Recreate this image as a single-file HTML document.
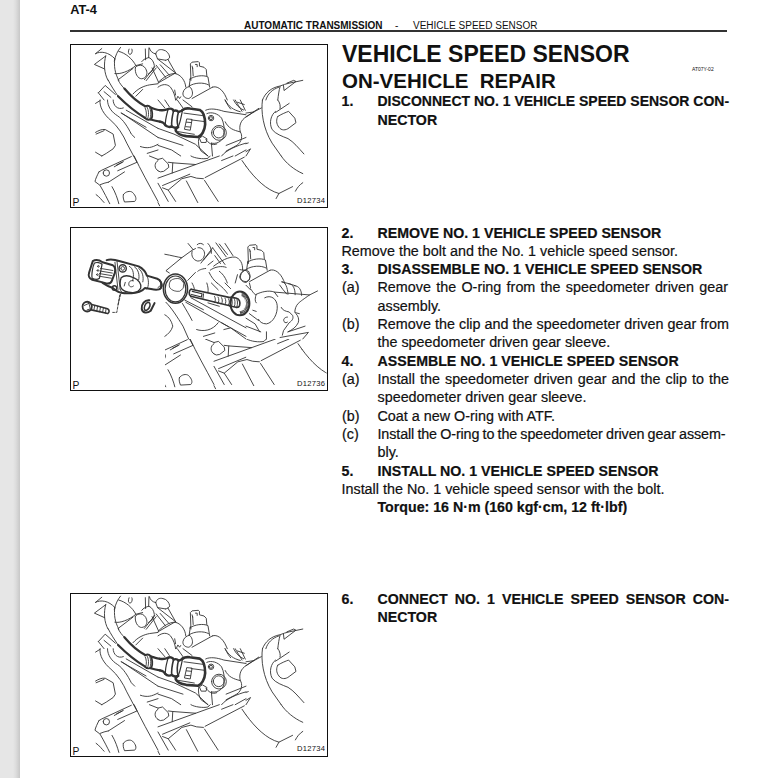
<!DOCTYPE html>
<html><head><meta charset="utf-8">
<style>
html,body{margin:0;padding:0;}
body{width:775px;height:778px;position:relative;overflow:hidden;background:#fff;font-family:"Liberation Sans",sans-serif;color:#111;}
#gray{position:absolute;left:0;top:0;width:20px;height:778px;background:linear-gradient(to right,#e6e6e6 0,#e6e6e6 13px,#dcdcdc 16px,#cacaca 19.5px,#fff 20px);}
.t{position:absolute;white-space:nowrap;line-height:1;}
.l{position:absolute;white-space:nowrap;line-height:14px;font-size:14.35px;-webkit-text-stroke:0.2px #111;}
.l.b{font-size:14.2px;}
.j{white-space:nowrap;}
.b{font-weight:bold;}
.box{position:absolute;border:1.5px solid #111;box-sizing:border-box;}
.box svg{position:absolute;left:0;top:0;}
.lblP{position:absolute;left:2px;bottom:1px;font-size:10px;line-height:1;}
.lblD{position:absolute;right:2px;bottom:2px;font-size:7.5px;line-height:1;}
</style></head><body>
<div id="gray"></div>
<div class="t b" style="left:70.2px;top:3.7px;font-size:12.8px;">AT-4</div>
<div class="t b" style="left:244px;top:20.5px;font-size:10px;">AUTOMATIC TRANSMISSION</div><div class="t" style="left:395px;top:20.5px;font-size:10px;">-</div><div class="t" style="left:413px;top:20.5px;font-size:10px;">VEHICLE SPEED SENSOR</div>
<div style="position:absolute;left:70px;top:30.2px;width:657px;height:1.5px;background:#333;"></div>

<div class="box" style="left:70px;top:43.8px;width:258px;height:164px;"></div>
<div class="box" style="left:70px;top:226.9px;width:258px;height:164px;"></div>
<div class="box" style="left:70px;top:592.5px;width:258px;height:164px;"></div>
<!--SVG--><svg width="775" height="778" style="position:absolute;left:0;top:0">
<defs><clipPath id="c1"><rect x="71.6" y="45.4" width="255" height="161"/></clipPath><clipPath id="c2"><rect x="71.6" y="228.3" width="255" height="161"/></clipPath><clipPath id="c2r"><rect x="165" y="339" width="161.6" height="50.3"/></clipPath></defs>
<g stroke="#333" fill="none" stroke-linecap="round" stroke-linejoin="round" vector-effect="non-scaling-stroke">
<g id="d1" clip-path="url(#c1)">
<g transform="translate(70.0,44.0) scale(0.11355)">
<path d="M315,105 C295,170 300,260 335,320" stroke-width="0.9" fill="none" vector-effect="non-scaling-stroke"/>
<path d="M395,130 C385,190 395,260 430,320" stroke-width="0.9" fill="none" vector-effect="non-scaling-stroke"/>
<path d="M225,85 C270,60 340,70 395,130" stroke-width="0.9" fill="none" vector-effect="non-scaling-stroke"/>
<path d="M225,85 L280,40" stroke-width="0.9" fill="none" vector-effect="non-scaling-stroke"/>
<path d="M315,105 L215,180 L305,220" stroke-width="0.9" fill="none" vector-effect="non-scaling-stroke"/>
<path d="M390,150 C400,100 420,60 445,30" stroke-width="0.9" fill="none" vector-effect="non-scaling-stroke"/>
<path d="M430,65 C490,80 550,130 580,190" stroke-width="0.9" fill="none" vector-effect="non-scaling-stroke"/>
<path d="M395,260 C440,270 520,240 580,190 L640,175" stroke-width="0.9" fill="none" vector-effect="non-scaling-stroke"/>
<path d="M430,310 L555,215" stroke-width="0.9" fill="none" vector-effect="non-scaling-stroke"/>
<path d="M520,45 C505,80 520,95 535,90 C550,75 550,55 545,45" stroke-width="0.9" fill="none" vector-effect="non-scaling-stroke"/>
<path d="M250,430 L310,365 L400,445" stroke-width="0.9" fill="none" vector-effect="non-scaling-stroke"/>
<path d="M250,430 L300,493" stroke-width="0.9" fill="none" vector-effect="non-scaling-stroke"/>
<path d="M300,420 L360,470" stroke-width="0.9" fill="none" vector-effect="non-scaling-stroke"/>
<path d="M555,440 C600,390 650,370 700,360 L775,350" stroke-width="0.9" fill="none" vector-effect="non-scaling-stroke"/>
<path d="M580,460 L640,400" stroke-width="0.9" fill="none" vector-effect="non-scaling-stroke"/>
</g>
<g transform="translate(158.0,44.0) scale(0.11355)">
<path d="M0,340 C50,290 100,260 150,260 C200,270 240,320 245,380" stroke-width="0.9" fill="none" vector-effect="non-scaling-stroke"/>
<path d="M0,380 C40,350 80,350 110,380 C140,420 150,460 155,493" stroke-width="0.9" fill="none" vector-effect="non-scaling-stroke"/>
<path d="M160,493 L175,460 L190,480 L200,465" stroke-width="0.9" fill="none" vector-effect="non-scaling-stroke"/>
<path d="M290,320 L285,175 L300,160 L355,155 L365,165 L365,195 L405,205 L425,225 L430,280" stroke-width="0.9" fill="none" vector-effect="non-scaling-stroke"/>
<path d="M300,195 L305,215" stroke-width="0.9" fill="none" vector-effect="non-scaling-stroke"/>
<path d="M330,180 L345,180 L345,200" stroke-width="0.9" fill="none" vector-effect="non-scaling-stroke"/>
<path d="M305,210 L310,280" stroke-width="0.9" fill="none" vector-effect="non-scaling-stroke"/>
<path d="M280,310 C320,280 400,270 440,290 L455,380" stroke-width="0.9" fill="none" vector-effect="non-scaling-stroke"/>
<path d="M275,370 C320,340 400,335 445,360" stroke-width="0.9" fill="none" vector-effect="non-scaling-stroke"/>
<path d="M285,300 L275,370" stroke-width="0.9" fill="none" vector-effect="non-scaling-stroke"/>
<path d="M275,375 C250,380 225,400 220,430 C215,460 240,480 270,480 C300,470 310,440 300,410 C295,390 285,380 275,375" stroke-width="0.9" fill="none" vector-effect="non-scaling-stroke"/>
<path d="M300,480 L480,380" stroke-width="0.9" fill="none" vector-effect="non-scaling-stroke"/>
<path d="M480,380 C520,365 570,400 600,470 L610,493" stroke-width="0.9" fill="none" vector-effect="non-scaling-stroke"/>
</g>
<g transform="translate(246.0,44.0) scale(0.11355)">
<path d="M145,493 C170,430 220,385 300,370 C330,360 350,350 380,345 L500,320" stroke-width="0.9" fill="none" vector-effect="non-scaling-stroke"/>
<path d="M175,493 C190,440 230,400 290,380" stroke-width="0.9" fill="none" vector-effect="non-scaling-stroke"/>
<path d="M300,375 C290,410 285,450 280,493" stroke-width="0.9" fill="none" vector-effect="non-scaling-stroke"/>
<path d="M330,365 L335,410 L440,330 L420,320 L360,345" stroke-width="0.9" fill="none" vector-effect="non-scaling-stroke"/>
</g>
<g transform="translate(70.0,100.0) scale(0.11355)">
<path d="M225,30 L265,5" stroke-width="0.9" fill="none" vector-effect="non-scaling-stroke"/>
<path d="M265,0 C255,60 300,130 360,180 C420,230 470,310 500,380 L560,493" stroke-width="0.9" fill="none" vector-effect="non-scaling-stroke"/>
<path d="M330,0 C330,60 370,110 420,140 C470,175 510,240 540,300 L570,330" stroke-width="0.9" fill="none" vector-effect="non-scaling-stroke"/>
<path d="M380,0 C380,50 420,90 470,70" stroke-width="0.9" fill="none" vector-effect="non-scaling-stroke"/>
<path d="M450,115 L670,240" stroke-width="0.9" fill="none" vector-effect="non-scaling-stroke"/>
<path d="M455,115 L775,330" stroke-width="0.9" fill="none" vector-effect="non-scaling-stroke"/>
<path d="M495,90 L775,250" stroke-width="0.9" fill="none" vector-effect="non-scaling-stroke"/>
<path d="M225,285 C250,270 280,255 310,260 L380,300 L400,400 L380,430 L320,470 L280,493" stroke-width="0.9" fill="none" vector-effect="non-scaling-stroke"/>
<path d="M225,460 L280,493" stroke-width="0.9" fill="none" vector-effect="non-scaling-stroke"/>
<path d="M230,300 L300,270" stroke-width="0.9" fill="none" vector-effect="non-scaling-stroke"/>
<path d="M620,410 C680,430 720,420 775,390" stroke-width="0.9" fill="none" vector-effect="non-scaling-stroke"/>
<path d="M680,470 L775,440" stroke-width="0.9" fill="none" vector-effect="non-scaling-stroke"/>
</g>
<g transform="translate(100.0,80.0) scale(0.09033)">
<path d="M200,0 C220,40 245,70 270,95" stroke-width="0.9" fill="none" vector-effect="non-scaling-stroke"/>
<path d="M270,95 C350,190 420,250 500,290" stroke-width="2.2" fill="none" vector-effect="non-scaling-stroke"/>
<path d="M90,0 C120,60 160,120 200,180" stroke-width="0.9" fill="none" vector-effect="non-scaling-stroke"/>
<path d="M200,180 C300,280 400,360 500,420" stroke-width="2.2" fill="none" vector-effect="non-scaling-stroke"/>
<path d="M500,292 C515,285 545,285 560,300 C580,330 585,400 570,428 C555,445 520,445 500,422" stroke-width="1.8" fill="none" vector-effect="non-scaling-stroke"/>
<path d="M520,300 C540,330 545,390 525,435" stroke-width="0.9" fill="none" vector-effect="non-scaling-stroke"/>
<path d="M500,310 C515,340 520,390 505,425" stroke-width="0.9" fill="none" vector-effect="non-scaling-stroke"/>
<path d="M545,298 C565,330 570,395 550,438" stroke-width="0.9" fill="none" vector-effect="non-scaling-stroke"/>
<path d="M568,308 C620,325 640,333 664,333" stroke-width="2.2" fill="none" vector-effect="non-scaling-stroke"/>
<path d="M560,438 C600,450 640,458 664,461" stroke-width="2.2" fill="none" vector-effect="non-scaling-stroke"/>
</g>
<g transform="translate(158.0,100.0) scale(0.11355)">
<path d="M430,120 C470,100 530,120 560,160 C580,200 590,260 580,320 C560,370 510,390 470,380" stroke-width="0.9" fill="none" vector-effect="non-scaling-stroke"/>
<path d="M420,90 C460,70 520,80 580,100 L775,130" stroke-width="0.9" fill="none" vector-effect="non-scaling-stroke"/>
<path d="M700,20 L760,40" stroke-width="0.9" fill="none" vector-effect="non-scaling-stroke"/>
<path d="M590,0 C610,40 630,70 640,80" stroke-width="0.9" fill="none" vector-effect="non-scaling-stroke"/>
<path d="M680,0 C700,40 720,60 740,100" stroke-width="0.9" fill="none" vector-effect="non-scaling-stroke"/>
<path d="M0,250 L140,300 L330,390 L440,493" stroke-width="0.9" fill="none" vector-effect="non-scaling-stroke"/>
<path d="M0,330 L220,400" stroke-width="0.9" fill="none" vector-effect="non-scaling-stroke"/>
<path d="M0,400 L120,440 L200,493" stroke-width="0.9" fill="none" vector-effect="non-scaling-stroke"/>
<path d="M360,330 C350,380 360,420 380,450 L440,493" stroke-width="0.9" fill="none" vector-effect="non-scaling-stroke"/>
<path d="M470,380 L480,493" stroke-width="0.9" fill="none" vector-effect="non-scaling-stroke"/>
<path d="M0,0 L60,70" stroke-width="0.9" fill="none" vector-effect="non-scaling-stroke"/>
<path d="M60,0 L100,60" stroke-width="0.9" fill="none" vector-effect="non-scaling-stroke"/>
<path d="M170,0 L220,70" stroke-width="0.9" fill="none" vector-effect="non-scaling-stroke"/>
<path d="M220,0 L300,60" stroke-width="0.9" fill="none" vector-effect="non-scaling-stroke"/>
<path d="M600,400 L775,330" stroke-width="0.9" fill="none" vector-effect="non-scaling-stroke"/>
<path d="M560,493 C600,440 700,400 775,380" stroke-width="0.9" fill="none" vector-effect="non-scaling-stroke"/>
<path d="M680,493 L775,440" stroke-width="0.9" fill="none" vector-effect="non-scaling-stroke"/>
</g>
<g transform="translate(160.0,100.0) scale(0.09033)">
<path d="M0,112 C40,118 70,110 90,100" stroke-width="2.4" fill="none" vector-effect="non-scaling-stroke"/>
<path d="M0,240 C30,245 50,260 60,280" stroke-width="2.4" fill="none" vector-effect="non-scaling-stroke"/>
<path d="M90,100 C115,88 145,100 150,120 C170,112 195,120 205,132 C225,125 240,122 250,110" stroke-width="2.4" fill="none" vector-effect="non-scaling-stroke"/>
<path d="M60,280 C80,302 115,302 130,290 C150,312 185,310 200,300" stroke-width="2.4" fill="none" vector-effect="non-scaling-stroke"/>
<path d="M150,120 C135,180 125,240 130,290" stroke-width="1.6" fill="none" vector-effect="non-scaling-stroke"/>
<path d="M205,132 C190,180 185,240 200,300" stroke-width="1.6" fill="none" vector-effect="non-scaling-stroke"/>
<path d="M90,100 C75,160 55,220 60,280" stroke-width="1.2" fill="none" vector-effect="non-scaling-stroke"/>
<path d="M250,110 C270,95 300,90 330,95 L440,110 C480,130 500,200 500,270 C495,340 460,400 420,410 L290,400 C220,390 190,370 175,340 C170,320 175,310 200,300" stroke-width="2.6" fill="none" vector-effect="non-scaling-stroke"/>
<path d="M250,110 C235,180 225,250 200,300" stroke-width="1.2" fill="none" vector-effect="non-scaling-stroke"/>
<path d="M300,210 L355,215 L335,335 L275,325 Z" stroke-width="0.9" fill="none" vector-effect="non-scaling-stroke"/>
<path d="M292,245 L345,250" stroke-width="0.9" fill="none" vector-effect="non-scaling-stroke"/>
<path d="M285,295 L338,300" stroke-width="0.9" fill="none" vector-effect="non-scaling-stroke"/>
<path d="M265,145 L490,175" stroke-width="0.9" fill="none" vector-effect="non-scaling-stroke"/>
<path d="M345,220 L500,240" stroke-width="0.9" fill="none" vector-effect="non-scaling-stroke"/>
<path d="M200,350 L380,380" stroke-width="0.9" fill="none" vector-effect="non-scaling-stroke"/>
<path d="M565,200 m-30,0 a30,30 0 1,0 60,0 a30,30 0 1,0 -60,0" stroke-width="0.9" fill="none" vector-effect="non-scaling-stroke"/>
<path d="M650,360 m-60,0 a60,60 0 1,0 120,0 a60,60 0 1,0 -120,0" stroke-width="0.9" fill="none" vector-effect="non-scaling-stroke"/>
<path d="M440,420 L470,400 L520,430 L510,470 L460,470 Z" stroke-width="0.9" fill="none" vector-effect="non-scaling-stroke"/>
</g>
<g transform="translate(200.0,100.0) scale(0.16779)">
<path d="M65,108 m-9,0 a9,9 0 1,0 18,0 a9,9 0 1,0 -18,0" stroke-width="0.9" fill="none" vector-effect="non-scaling-stroke"/>
<path d="M113,196 m-44,0 a44,44 0 1,0 88,0 a44,44 0 1,0 -88,0" stroke-width="0.9" fill="none" vector-effect="non-scaling-stroke"/>
<path d="M150,130 C170,170 200,180 240,190 C255,210 250,250 220,270 C195,285 170,295 155,305" stroke-width="0.9" fill="none" vector-effect="non-scaling-stroke"/>
<path d="M240,190 C230,150 245,120 275,100 L350,50" stroke-width="0.9" fill="none" vector-effect="non-scaling-stroke"/>
<path d="M150,0 C170,40 200,60 240,70" stroke-width="0.9" fill="none" vector-effect="non-scaling-stroke"/>
<path d="M200,0 C215,30 235,50 260,60" stroke-width="0.9" fill="none" vector-effect="non-scaling-stroke"/>
<path d="M240,0 C250,20 262,45 270,62" stroke-width="0.9" fill="none" vector-effect="non-scaling-stroke"/>
<path d="M35,235 C50,255 70,275 100,262" stroke-width="0.9" fill="none" vector-effect="non-scaling-stroke"/>
</g>
<g transform="translate(246.0,100.0) scale(0.11355)">
<path d="M145,0 C130,100 150,250 230,380 L310,493" stroke-width="0.9" fill="none" vector-effect="non-scaling-stroke"/>
<path d="M280,0 C300,20 305,60 300,75" stroke-width="0.9" fill="none" vector-effect="non-scaling-stroke"/>
<path d="M0,150 L70,105 L135,70" stroke-width="0.9" fill="none" vector-effect="non-scaling-stroke"/>
<path d="M0,115 L70,105" stroke-width="0.9" fill="none" vector-effect="non-scaling-stroke"/>
<path d="M260,110 L380,30" stroke-width="0.9" fill="none" vector-effect="non-scaling-stroke"/>
<path d="M260,100 C220,130 200,200 230,260 C260,300 320,320 370,340 C420,370 460,420 510,475" stroke-width="0.9" fill="none" vector-effect="non-scaling-stroke"/>
<path d="M280,145 C320,120 350,110 375,100 L430,160 L440,200 L380,245 C350,270 310,270 290,240 C265,210 265,170 280,145" stroke-width="0.9" fill="none" vector-effect="non-scaling-stroke"/>
<path d="M0,455 L40,430 L0,493" stroke-width="0.9" fill="none" vector-effect="non-scaling-stroke"/>
<path d="M0,385 L20,378" stroke-width="0.9" fill="none" vector-effect="non-scaling-stroke"/>
</g>
<g transform="translate(70.0,156.0) scale(0.11355)">
<path d="M255,140 L280,125 L540,5" stroke-width="0.9" fill="none" vector-effect="non-scaling-stroke"/>
<path d="M390,95 L470,50" stroke-width="0.9" fill="none" vector-effect="non-scaling-stroke"/>
<path d="M410,80 L460,55" stroke-width="0.9" fill="none" vector-effect="non-scaling-stroke"/>
<path d="M420,130 L590,55 L560,0" stroke-width="0.9" fill="none" vector-effect="non-scaling-stroke"/>
<path d="M340,230 L480,140" stroke-width="0.9" fill="none" vector-effect="non-scaling-stroke"/>
<path d="M255,140 C240,170 225,200 220,225 L260,255 L300,240 L340,230" stroke-width="0.9" fill="none" vector-effect="non-scaling-stroke"/>
<path d="M320,150 m-28,0 a28,28 0 1,0 56,0 a28,28 0 1,0 -56,0" stroke-width="0.9" fill="none" vector-effect="non-scaling-stroke"/>
<path d="M265,260 C300,320 330,380 350,420" stroke-width="0.9" fill="none" vector-effect="non-scaling-stroke"/>
<path d="M370,270 C400,320 420,380 430,420" stroke-width="0.9" fill="none" vector-effect="non-scaling-stroke"/>
<path d="M230,340 C260,360 280,390 300,410" stroke-width="0.9" fill="none" vector-effect="non-scaling-stroke"/>
<path d="M470,340 C490,310 530,305 550,320 C580,350 590,380 570,400 L480,405 C470,380 465,360 470,340" stroke-width="0.9" fill="none" vector-effect="non-scaling-stroke"/>
<path d="M565,0 C620,120 700,260 775,400" stroke-width="0.9" fill="none" vector-effect="non-scaling-stroke"/>
<path d="M700,0 L775,30" stroke-width="0.9" fill="none" vector-effect="non-scaling-stroke"/>
<path d="M775,40 C740,60 740,110 775,130" stroke-width="0.9" fill="none" vector-effect="non-scaling-stroke"/>
</g>
<g transform="translate(158.0,156.0) scale(0.11355)">
<path d="M0,30 L40,20 L90,70 L95,100 L50,135 L20,140 L0,130" stroke-width="0.9" fill="none" vector-effect="non-scaling-stroke"/>
<path d="M90,55 L130,60 L330,75" stroke-width="0.9" fill="none" vector-effect="non-scaling-stroke"/>
<path d="M130,60 L125,150" stroke-width="0.9" fill="none" vector-effect="non-scaling-stroke"/>
<path d="M0,195 L540,0" stroke-width="0.9" fill="none" vector-effect="non-scaling-stroke"/>
<path d="M560,40 L660,0" stroke-width="0.9" fill="none" vector-effect="non-scaling-stroke"/>
<path d="M415,190 L760,10" stroke-width="0.9" fill="none" vector-effect="non-scaling-stroke"/>
<path d="M40,260 L280,160" stroke-width="0.9" fill="none" vector-effect="non-scaling-stroke"/>
<path d="M40,280 L90,300 L210,200 L290,180 L340,195 L400,200" stroke-width="0.9" fill="none" vector-effect="non-scaling-stroke"/>
<path d="M0,240 L90,400" stroke-width="0.9" fill="none" vector-effect="non-scaling-stroke"/>
<path d="M90,300 L155,400" stroke-width="0.9" fill="none" vector-effect="non-scaling-stroke"/>
<path d="M250,220 L350,410" stroke-width="0.9" fill="none" vector-effect="non-scaling-stroke"/>
<path d="M410,215 L530,400" stroke-width="0.9" fill="none" vector-effect="non-scaling-stroke"/>
<path d="M290,0 C320,20 400,30 440,20 L460,0" stroke-width="0.9" fill="none" vector-effect="non-scaling-stroke"/>
<path d="M740,40 L775,90" stroke-width="0.9" fill="none" vector-effect="non-scaling-stroke"/>
<path d="M0,410 L15,440" stroke-width="0.9" fill="none" vector-effect="non-scaling-stroke"/>
</g>
<g transform="translate(246.0,156.0) scale(0.11355)">
<path d="M0,90 C80,200 180,300 290,330 L410,270" stroke-width="0.9" fill="none" vector-effect="non-scaling-stroke"/>
<path d="M290,330 L265,375" stroke-width="0.9" fill="none" vector-effect="non-scaling-stroke"/>
<path d="M310,0 C350,60 420,120 500,155" stroke-width="0.9" fill="none" vector-effect="non-scaling-stroke"/>
<path d="M435,310 C450,280 470,255 500,235" stroke-width="0.9" fill="none" vector-effect="non-scaling-stroke"/>
</g>
<g transform="translate(125.0,44.0) scale(0.09033)">
<path d="M115,260 C105,320 140,385 185,385 C230,380 250,340 240,300 C230,260 200,235 170,235 C150,235 125,245 115,260" stroke-width="0.9" fill="none" vector-effect="non-scaling-stroke"/>
<path d="M185,195 C200,170 240,155 265,150 C300,165 320,200 325,240 C320,280 300,310 260,330" stroke-width="0.9" fill="none" vector-effect="non-scaling-stroke"/>
<path d="M225,55 L228,175" stroke-width="0.9" fill="none" vector-effect="non-scaling-stroke"/>
<path d="M265,45 L262,150" stroke-width="0.9" fill="none" vector-effect="non-scaling-stroke"/>
<path d="M270,45 C280,80 300,100 340,110" stroke-width="0.9" fill="none" vector-effect="non-scaling-stroke"/>
<path d="M340,110 C350,70 380,55 420,65 C460,70 490,110 495,145 C490,165 470,175 450,180" stroke-width="0.9" fill="none" vector-effect="non-scaling-stroke"/>
<path d="M340,110 L360,165 L450,180" stroke-width="0.9" fill="none" vector-effect="non-scaling-stroke"/>
<path d="M360,165 L565,325" stroke-width="0.9" fill="none" vector-effect="non-scaling-stroke"/>
<path d="M475,170 L560,320" stroke-width="0.9" fill="none" vector-effect="non-scaling-stroke"/>
<path d="M345,235 L450,370" stroke-width="0.9" fill="none" vector-effect="non-scaling-stroke"/>
<path d="M390,230 L490,345" stroke-width="0.9" fill="none" vector-effect="non-scaling-stroke"/>
<path d="M300,265 L370,420" stroke-width="0.9" fill="none" vector-effect="non-scaling-stroke"/>
<path d="M215,395 L330,250" stroke-width="0.9" fill="none" vector-effect="non-scaling-stroke"/>
<path d="M235,405 L345,265" stroke-width="0.9" fill="none" vector-effect="non-scaling-stroke"/>
<path d="M370,430 L560,320" stroke-width="0.9" fill="none" vector-effect="non-scaling-stroke"/>
<path d="M550,510 L560,565" stroke-width="0.9" fill="none" vector-effect="non-scaling-stroke"/>
</g>
</g>
<g clip-path="url(#c2)">
<g transform="translate(158.0,227.0) scale(0.11355)">
<path d="M265,145 L310,200" stroke-width="0.9" fill="none" vector-effect="non-scaling-stroke"/>
<path d="M60,240 C120,250 170,265 210,270 L300,205 L330,190" stroke-width="0.9" fill="none" vector-effect="non-scaling-stroke"/>
<path d="M210,270 L70,385 L100,405" stroke-width="0.9" fill="none" vector-effect="non-scaling-stroke"/>
<path d="M300,215 C290,255 310,292 350,300 C390,300 412,262 410,230 C405,195 380,180 352,182" stroke-width="0.9" fill="none" vector-effect="non-scaling-stroke"/>
<path d="M345,155 C360,140 385,140 400,155" stroke-width="0.9" fill="none" vector-effect="non-scaling-stroke"/>
<path d="M378,318 L480,185" stroke-width="0.9" fill="none" vector-effect="non-scaling-stroke"/>
<path d="M400,292 L470,210" stroke-width="0.9" fill="none" vector-effect="non-scaling-stroke"/>
<path d="M440,335 L485,300" stroke-width="0.9" fill="none" vector-effect="non-scaling-stroke"/>
<path d="M440,145 C462,165 472,200 470,232" stroke-width="0.9" fill="none" vector-effect="non-scaling-stroke"/>
<path d="M510,140 L600,262" stroke-width="0.9" fill="none" vector-effect="non-scaling-stroke"/>
<path d="M540,150 L612,242" stroke-width="0.9" fill="none" vector-effect="non-scaling-stroke"/>
<path d="M590,145 L660,252" stroke-width="0.9" fill="none" vector-effect="non-scaling-stroke"/>
<path d="M480,182 L590,330" stroke-width="0.9" fill="none" vector-effect="non-scaling-stroke"/>
<path d="M500,252 L550,322" stroke-width="0.9" fill="none" vector-effect="non-scaling-stroke"/>
<path d="M490,345 C550,300 620,260 680,265 C720,275 750,320 745,380" stroke-width="0.9" fill="none" vector-effect="non-scaling-stroke"/>
<path d="M460,380 C500,350 560,340 600,355" stroke-width="0.9" fill="none" vector-effect="non-scaling-stroke"/>
<path d="M450,400 C470,440 490,470 520,493" stroke-width="0.9" fill="none" vector-effect="non-scaling-stroke"/>
<path d="M540,390 C580,420 600,460 610,493" stroke-width="0.9" fill="none" vector-effect="non-scaling-stroke"/>
<path d="M262,470 L330,400" stroke-width="0.9" fill="none" vector-effect="non-scaling-stroke"/>
<path d="M350,390 C360,380 380,370 420,365" stroke-width="0.9" fill="none" vector-effect="non-scaling-stroke"/>
<path d="M680,493 L700,420" stroke-width="0.9" fill="none" vector-effect="non-scaling-stroke"/>
<path d="M720,375 C740,380 760,380 775,378" stroke-width="0.9" fill="none" vector-effect="non-scaling-stroke"/>
</g>
<g transform="translate(215.5,227.1) scale(0.11355)">
<path d="M290,320 L285,175 L300,160 L355,155 L365,165 L365,195 L405,205 L425,225 L430,280" stroke-width="0.9" fill="none" vector-effect="non-scaling-stroke"/>
<path d="M300,195 L305,215" stroke-width="0.9" fill="none" vector-effect="non-scaling-stroke"/>
<path d="M330,180 L345,180 L345,200" stroke-width="0.9" fill="none" vector-effect="non-scaling-stroke"/>
<path d="M305,210 L310,280" stroke-width="0.9" fill="none" vector-effect="non-scaling-stroke"/>
<path d="M280,310 C320,280 400,270 440,290 L455,380" stroke-width="0.9" fill="none" vector-effect="non-scaling-stroke"/>
<path d="M275,370 C320,340 400,335 445,360" stroke-width="0.9" fill="none" vector-effect="non-scaling-stroke"/>
<path d="M285,300 L275,370" stroke-width="0.9" fill="none" vector-effect="non-scaling-stroke"/>
<path d="M275,375 C250,380 225,400 220,430 C215,460 240,480 270,480 C300,470 310,440 300,410 C295,390 285,380 275,375" stroke-width="0.9" fill="none" vector-effect="non-scaling-stroke"/>
<path d="M300,480 L480,380" stroke-width="0.9" fill="none" vector-effect="non-scaling-stroke"/>
<path d="M480,380 C520,365 570,400 600,470 L610,493" stroke-width="0.9" fill="none" vector-effect="non-scaling-stroke"/>
</g>
<g transform="translate(158.0,283.0) scale(0.11355)">
<path d="M70,170 C120,220 170,300 220,380 L270,493" stroke-width="0.9" fill="none" vector-effect="non-scaling-stroke"/>
<path d="M215,180 C250,240 280,290 300,330" stroke-width="0.9" fill="none" vector-effect="non-scaling-stroke"/>
<path d="M235,150 L400,235" stroke-width="0.9" fill="none" vector-effect="non-scaling-stroke"/>
<path d="M290,130 L775,395" stroke-width="0.9" fill="none" vector-effect="non-scaling-stroke"/>
<path d="M245,170 L620,385" stroke-width="0.9" fill="none" vector-effect="non-scaling-stroke"/>
<path d="M60,280 C100,300 120,340 130,380 C120,420 90,450 60,470" stroke-width="0.9" fill="none" vector-effect="non-scaling-stroke"/>
<path d="M340,410 C400,430 480,420 530,350" stroke-width="0.9" fill="none" vector-effect="non-scaling-stroke"/>
<path d="M400,470 L500,440" stroke-width="0.9" fill="none" vector-effect="non-scaling-stroke"/>
<path d="M560,350 L775,470" stroke-width="0.9" fill="none" vector-effect="non-scaling-stroke"/>
<path d="M580,410 L640,395 L775,493" stroke-width="0.9" fill="none" vector-effect="non-scaling-stroke"/>
<path d="M430,0 C440,30 445,60 440,80" stroke-width="0.9" fill="none" vector-effect="non-scaling-stroke"/>
<path d="M470,0 L530,60" stroke-width="0.9" fill="none" vector-effect="non-scaling-stroke"/>
<path d="M590,0 L640,50" stroke-width="0.9" fill="none" vector-effect="non-scaling-stroke"/>
<path d="M520,0 C560,30 600,70 610,90" stroke-width="0.9" fill="none" vector-effect="non-scaling-stroke"/>
<path d="M440,175 L540,205" stroke-width="0.9" fill="none" vector-effect="non-scaling-stroke"/>
<path d="M300,0 C310,20 320,40 320,55" stroke-width="0.9" fill="none" vector-effect="non-scaling-stroke"/>
<path d="M0,40 C20,30 30,10 25,0" stroke-width="0.9" fill="none" vector-effect="non-scaling-stroke"/>
</g>
<g transform="translate(246.0,283.0) scale(0.11355)">
<path d="M0,20 L40,60" stroke-width="0.9" fill="none" vector-effect="non-scaling-stroke"/>
<path d="M30,0 L40,40" stroke-width="0.9" fill="none" vector-effect="non-scaling-stroke"/>
<path d="M40,50 C60,80 80,110 90,100 C130,80 200,60 250,80 L280,120" stroke-width="0.9" fill="none" vector-effect="non-scaling-stroke"/>
<path d="M90,100 C80,130 75,160 90,175" stroke-width="0.9" fill="none" vector-effect="non-scaling-stroke"/>
<path d="M165,130 C220,100 270,140 275,200 C280,270 240,350 180,360 C140,360 120,340 110,320" stroke-width="0.9" fill="none" vector-effect="non-scaling-stroke"/>
<path d="M250,80 L560,105 L630,70" stroke-width="0.9" fill="none" vector-effect="non-scaling-stroke"/>
<path d="M560,105 C510,140 480,160 460,180 C440,200 430,230 430,260 L470,270" stroke-width="0.9" fill="none" vector-effect="non-scaling-stroke"/>
<path d="M310,215 C320,240 350,250 380,255 L410,285 C420,310 410,330 380,350 L330,420 L320,460" stroke-width="0.9" fill="none" vector-effect="non-scaling-stroke"/>
<path d="M440,270 C460,290 470,320 460,350 C440,390 410,410 370,430" stroke-width="0.9" fill="none" vector-effect="non-scaling-stroke"/>
<path d="M365,300 C340,300 325,320 335,340 C345,355 360,350 365,345" stroke-width="0.9" fill="none" vector-effect="non-scaling-stroke"/>
<path d="M370,430 L520,380" stroke-width="0.9" fill="none" vector-effect="non-scaling-stroke"/>
<path d="M300,480 L550,435 L500,493" stroke-width="0.9" fill="none" vector-effect="non-scaling-stroke"/>
<path d="M60,240 L90,250" stroke-width="0.9" fill="none" vector-effect="non-scaling-stroke"/>
<path d="M30,270 L110,330" stroke-width="0.9" fill="none" vector-effect="non-scaling-stroke"/>
<path d="M0,310 L80,360 L120,430" stroke-width="0.9" fill="none" vector-effect="non-scaling-stroke"/>
<path d="M0,380 L130,430" stroke-width="0.9" fill="none" vector-effect="non-scaling-stroke"/>
<path d="M180,430 L180,493" stroke-width="0.9" fill="none" vector-effect="non-scaling-stroke"/>
</g>
<g transform="translate(75.0,295.0) scale(0.11613)">
<path d="M105,100 m-40,0 a40,42 0 1,0 80,0 a40,42 0 1,0 -80,0" stroke-width="1.8" fill="none" vector-effect="non-scaling-stroke"/>
<path d="M120,72 L132,120 L105,128" stroke-width="0.9" fill="none" vector-effect="non-scaling-stroke"/>
<path d="M80,90 L120,72" stroke-width="0.9" fill="none" vector-effect="non-scaling-stroke"/>
<path d="M145,82 L280,118 C298,128 298,150 282,160 L140,128" stroke-width="1.6" fill="none" vector-effect="non-scaling-stroke"/>
<path d="M170,90 L162,132" stroke-width="0.9" fill="none" vector-effect="non-scaling-stroke"/>
<path d="M195,96 L187,138" stroke-width="0.9" fill="none" vector-effect="non-scaling-stroke"/>
<path d="M220,103 L212,145" stroke-width="0.9" fill="none" vector-effect="non-scaling-stroke"/>
<path d="M245,110 L237,152" stroke-width="0.9" fill="none" vector-effect="non-scaling-stroke"/>
<path d="M268,116 L262,157" stroke-width="0.9" fill="none" vector-effect="non-scaling-stroke"/>
<path d="M385,0 L360,150 L325,150" stroke-width="0.9" fill="none" vector-effect="non-scaling-stroke" stroke-dasharray="2.5,1.5"/>
<path d="M640,45 C600,40 570,80 575,120 C580,155 620,162 652,135 L685,70" stroke-width="2.0" fill="none" vector-effect="non-scaling-stroke"/>
<path d="M628,62 C602,72 590,110 600,128 C612,140 638,122 645,95 C650,75 640,62 628,62" stroke-width="1.5" fill="none" vector-effect="non-scaling-stroke"/>
</g>
<g transform="translate(220.0,275.0) scale(0.05528)">
<path d="M360,515 m-172,0 a172,215 0 1,0 344,0 a172,215 0 1,0 -344,0" stroke-width="2.0" fill="none" vector-effect="non-scaling-stroke"/>
<path d="M200,400 L300,420 C350,430 370,490 355,550 C345,580 320,590 290,585 L180,560" stroke-width="1.6" fill="none" vector-effect="non-scaling-stroke"/>
<path d="M250,410 C275,440 280,520 260,570" stroke-width="0.9" fill="none" vector-effect="non-scaling-stroke"/>
<path d="M295,420 C320,450 325,520 305,578" stroke-width="0.9" fill="none" vector-effect="non-scaling-stroke"/>
<path d="M200,402 C225,440 230,510 210,562" stroke-width="0.9" fill="none" vector-effect="non-scaling-stroke"/>
<path d="M399,377 L403,314" stroke-width="0.9" fill="none" vector-effect="non-scaling-stroke"/>
<path d="M413,385 L424,322" stroke-width="0.9" fill="none" vector-effect="non-scaling-stroke"/>
<path d="M426,395 L443,334" stroke-width="0.9" fill="none" vector-effect="non-scaling-stroke"/>
<path d="M438,406 L462,350" stroke-width="0.9" fill="none" vector-effect="non-scaling-stroke"/>
<path d="M449,420 L478,368" stroke-width="0.9" fill="none" vector-effect="non-scaling-stroke"/>
<path d="M458,436 L492,388" stroke-width="0.9" fill="none" vector-effect="non-scaling-stroke"/>
<path d="M466,452 L504,411" stroke-width="0.9" fill="none" vector-effect="non-scaling-stroke"/>
<path d="M471,470 L514,435" stroke-width="0.9" fill="none" vector-effect="non-scaling-stroke"/>
<path d="M475,489 L521,461" stroke-width="0.9" fill="none" vector-effect="non-scaling-stroke"/>
<path d="M477,508 L525,488" stroke-width="0.9" fill="none" vector-effect="non-scaling-stroke"/>
<path d="M477,527 L527,515" stroke-width="0.9" fill="none" vector-effect="non-scaling-stroke"/>
<path d="M474,546 L525,542" stroke-width="0.9" fill="none" vector-effect="non-scaling-stroke"/>
<path d="M470,564 L521,569" stroke-width="0.9" fill="none" vector-effect="non-scaling-stroke"/>
<path d="M464,582 L514,595" stroke-width="0.9" fill="none" vector-effect="non-scaling-stroke"/>
<path d="M456,598 L504,619" stroke-width="0.9" fill="none" vector-effect="non-scaling-stroke"/>
<path d="M447,613 L492,642" stroke-width="0.9" fill="none" vector-effect="non-scaling-stroke"/>
<path d="M436,626 L478,662" stroke-width="0.9" fill="none" vector-effect="non-scaling-stroke"/>
<path d="M424,638 L462,680" stroke-width="0.9" fill="none" vector-effect="non-scaling-stroke"/>
<path d="M410,647 L443,696" stroke-width="0.9" fill="none" vector-effect="non-scaling-stroke"/>
<path d="M396,654 L424,708" stroke-width="0.9" fill="none" vector-effect="non-scaling-stroke"/>
<path d="M381,659 L403,716" stroke-width="0.9" fill="none" vector-effect="non-scaling-stroke"/>
<path d="M366,661 L382,722" stroke-width="0.9" fill="none" vector-effect="non-scaling-stroke"/>
</g>
<g transform="translate(160.0,268.0) scale(0.11613)">
<path d="M133,178 m-104,0 a104,126 0 1,0 208,0 a104,126 0 1,0 -208,0" stroke-width="1.5" fill="none" vector-effect="non-scaling-stroke"/>
<path d="M133,180 m-89,0 a89,111 0 1,0 178,0 a89,111 0 1,0 -178,0" stroke-width="1.2" fill="none" vector-effect="non-scaling-stroke"/>
<path d="M90,110 C110,90 150,85 175,95 L205,130 L200,175 L170,200 C140,205 100,195 85,170 C75,150 80,125 90,110" stroke-width="0.8" fill="none" vector-effect="non-scaling-stroke"/>
<path d="M268,183 L605,255" stroke-width="1.7" fill="none" vector-effect="non-scaling-stroke"/>
<path d="M265,243 L600,325" stroke-width="1.7" fill="none" vector-effect="non-scaling-stroke"/>
<path d="M268,183 C248,190 245,232 265,243" stroke-width="1.7" fill="none" vector-effect="non-scaling-stroke"/>
<path d="M278,202 L362,222 L356,250 L272,228" stroke-width="1.2" fill="none" vector-effect="non-scaling-stroke"/>
<path d="M375,222 L370,262" stroke-width="1.0" fill="none" vector-effect="non-scaling-stroke"/>
<path d="M470,245 C480,260 480,290 468,300" stroke-width="0.9" fill="none" vector-effect="non-scaling-stroke"/>
<path d="M500,250 C510,265 510,295 498,305" stroke-width="0.9" fill="none" vector-effect="non-scaling-stroke"/>
<path d="M530,255 C540,270 540,300 528,310" stroke-width="0.9" fill="none" vector-effect="non-scaling-stroke"/>
<path d="M560,260 C570,275 570,305 558,315" stroke-width="0.9" fill="none" vector-effect="non-scaling-stroke"/>
<path d="M590,265 C600,280 600,310 588,320" stroke-width="0.9" fill="none" vector-effect="non-scaling-stroke"/>
<path d="M0,110 C20,130 20,160 0,180" stroke-width="1.8" fill="none" vector-effect="non-scaling-stroke"/>
</g>
<g transform="translate(230.0,227.0) scale(0.12903)">
<path d="M385,450 C400,470 420,500 440,520" stroke-width="0.9" fill="none" vector-effect="non-scaling-stroke"/>
<path d="M405,425 C430,425 445,470 450,520" stroke-width="0.9" fill="none" vector-effect="non-scaling-stroke"/>
<path d="M455,440 C490,440 505,480 505,525" stroke-width="0.9" fill="none" vector-effect="non-scaling-stroke"/>
<path d="M500,455 C535,455 555,490 555,530" stroke-width="0.9" fill="none" vector-effect="non-scaling-stroke"/>
<path d="M400,425 L460,440 L505,455" stroke-width="0.9" fill="none" vector-effect="non-scaling-stroke"/>
<path d="M80,370 C90,340 110,330 130,340 L155,380 L150,410 L125,430 C100,430 80,410 75,390 Z" stroke-width="0.9" fill="none" vector-effect="non-scaling-stroke"/>
</g>
<g transform="translate(85.0,255.0) scale(0.10323)">
<path d="M75,60 C100,45 140,50 170,70 L270,100 C290,110 295,140 290,170 L260,250 C250,275 220,280 190,270 L70,240 C40,230 30,200 40,170 Z" stroke-width="2.0" fill="none" vector-effect="non-scaling-stroke"/>
<path d="M90,80 C110,65 150,75 165,90 L140,225 C120,240 90,235 70,225 C60,200 75,110 90,80 Z" stroke-width="1.2" fill="none" vector-effect="non-scaling-stroke"/>
<path d="M150,130 L270,150" stroke-width="0.9" fill="none" vector-effect="non-scaling-stroke"/>
<path d="M145,155 L265,175" stroke-width="0.9" fill="none" vector-effect="non-scaling-stroke"/>
<path d="M140,180 L260,200" stroke-width="0.9" fill="none" vector-effect="non-scaling-stroke"/>
<path d="M135,205 L255,225" stroke-width="0.9" fill="none" vector-effect="non-scaling-stroke"/>
<path d="M130,110 m-8,0 a8,8 0 1,0 16,0 a8,8 0 1,0 -16,0" stroke-width="0.9" fill="none" vector-effect="non-scaling-stroke"/>
<path d="M125,150 m-8,0 a8,8 0 1,0 16,0 a8,8 0 1,0 -16,0" stroke-width="0.9" fill="none" vector-effect="non-scaling-stroke"/>
<path d="M120,190 m-8,0 a8,8 0 1,0 16,0 a8,8 0 1,0 -16,0" stroke-width="0.9" fill="none" vector-effect="non-scaling-stroke"/>
<path d="M210,50 C240,40 290,45 340,60 L520,110 C560,130 590,170 600,200 L700,230 C740,245 750,290 735,320 C720,340 690,340 640,330 L580,320 C560,350 500,370 450,370 L380,370 C340,370 300,350 270,320 C240,310 200,290 170,270" stroke-width="2.0" fill="none" vector-effect="non-scaling-stroke"/>
<path d="M365,130 m-35,0 a35,35 0 1,0 70,0 a35,35 0 1,0 -70,0" stroke-width="1.4" fill="none" vector-effect="non-scaling-stroke"/>
<path d="M365,130 m-18,0 a18,18 0 1,0 36,0 a18,18 0 1,0 -36,0" stroke-width="0.9" fill="none" vector-effect="non-scaling-stroke"/>
<path d="M430,110 C470,130 480,200 460,250" stroke-width="0.9" fill="none" vector-effect="non-scaling-stroke"/>
<path d="M480,115 C520,140 530,200 520,240" stroke-width="0.9" fill="none" vector-effect="non-scaling-stroke"/>
<path d="M520,130 C560,160 570,220 560,260" stroke-width="0.9" fill="none" vector-effect="non-scaling-stroke"/>
<path d="M600,200 C620,240 620,300 600,330" stroke-width="0.9" fill="none" vector-effect="non-scaling-stroke"/>
<path d="M350,220 C380,195 430,200 470,220 C520,240 550,280 540,320 C520,360 470,370 420,360 C370,350 340,320 340,280 C340,250 345,235 350,220" stroke-width="1.3" fill="none" vector-effect="non-scaling-stroke"/>
<path d="M470,250 C440,240 420,260 425,290 C430,310 455,315 470,300" stroke-width="0.9" fill="none" vector-effect="non-scaling-stroke"/>
<path d="M390,265 L380,300" stroke-width="0.9" fill="none" vector-effect="non-scaling-stroke"/>
<path d="M285,320 m-22,0 a22,22 0 1,0 44,0 a22,22 0 1,0 -44,0" stroke-width="1.3" fill="none" vector-effect="non-scaling-stroke"/>
<path d="M340,330 C350,370 390,380 400,360" stroke-width="0.9" fill="none" vector-effect="non-scaling-stroke"/>
<path d="M345,380 L320,484" stroke-width="0.9" fill="none" vector-effect="non-scaling-stroke" stroke-dasharray="2.5,1.5"/>
<path d="M290,70 L320,340" stroke-width="0.9" fill="none" vector-effect="non-scaling-stroke"/>
<path d="M310,60 L340,330" stroke-width="0.9" fill="none" vector-effect="non-scaling-stroke"/>
</g>
</g>
<g clip-path="url(#c2r)"><g transform="translate(56,183.1)">
<g transform="translate(70.0,156.0) scale(0.11355)">
<path d="M255,140 L280,125 L540,5" stroke-width="0.9" fill="none" vector-effect="non-scaling-stroke"/>
<path d="M390,95 L470,50" stroke-width="0.9" fill="none" vector-effect="non-scaling-stroke"/>
<path d="M410,80 L460,55" stroke-width="0.9" fill="none" vector-effect="non-scaling-stroke"/>
<path d="M420,130 L590,55 L560,0" stroke-width="0.9" fill="none" vector-effect="non-scaling-stroke"/>
<path d="M340,230 L480,140" stroke-width="0.9" fill="none" vector-effect="non-scaling-stroke"/>
<path d="M255,140 C240,170 225,200 220,225 L260,255 L300,240 L340,230" stroke-width="0.9" fill="none" vector-effect="non-scaling-stroke"/>
<path d="M320,150 m-28,0 a28,28 0 1,0 56,0 a28,28 0 1,0 -56,0" stroke-width="0.9" fill="none" vector-effect="non-scaling-stroke"/>
<path d="M265,260 C300,320 330,380 350,420" stroke-width="0.9" fill="none" vector-effect="non-scaling-stroke"/>
<path d="M370,270 C400,320 420,380 430,420" stroke-width="0.9" fill="none" vector-effect="non-scaling-stroke"/>
<path d="M230,340 C260,360 280,390 300,410" stroke-width="0.9" fill="none" vector-effect="non-scaling-stroke"/>
<path d="M470,340 C490,310 530,305 550,320 C580,350 590,380 570,400 L480,405 C470,380 465,360 470,340" stroke-width="0.9" fill="none" vector-effect="non-scaling-stroke"/>
<path d="M565,0 C620,120 700,260 775,400" stroke-width="0.9" fill="none" vector-effect="non-scaling-stroke"/>
<path d="M700,0 L775,30" stroke-width="0.9" fill="none" vector-effect="non-scaling-stroke"/>
<path d="M775,40 C740,60 740,110 775,130" stroke-width="0.9" fill="none" vector-effect="non-scaling-stroke"/>
</g>
<g transform="translate(158.0,156.0) scale(0.11355)">
<path d="M0,30 L40,20 L90,70 L95,100 L50,135 L20,140 L0,130" stroke-width="0.9" fill="none" vector-effect="non-scaling-stroke"/>
<path d="M90,55 L130,60 L330,75" stroke-width="0.9" fill="none" vector-effect="non-scaling-stroke"/>
<path d="M130,60 L125,150" stroke-width="0.9" fill="none" vector-effect="non-scaling-stroke"/>
<path d="M0,195 L540,0" stroke-width="0.9" fill="none" vector-effect="non-scaling-stroke"/>
<path d="M560,40 L660,0" stroke-width="0.9" fill="none" vector-effect="non-scaling-stroke"/>
<path d="M415,190 L760,10" stroke-width="0.9" fill="none" vector-effect="non-scaling-stroke"/>
<path d="M40,260 L280,160" stroke-width="0.9" fill="none" vector-effect="non-scaling-stroke"/>
<path d="M40,280 L90,300 L210,200 L290,180 L340,195 L400,200" stroke-width="0.9" fill="none" vector-effect="non-scaling-stroke"/>
<path d="M0,240 L90,400" stroke-width="0.9" fill="none" vector-effect="non-scaling-stroke"/>
<path d="M90,300 L155,400" stroke-width="0.9" fill="none" vector-effect="non-scaling-stroke"/>
<path d="M250,220 L350,410" stroke-width="0.9" fill="none" vector-effect="non-scaling-stroke"/>
<path d="M410,215 L530,400" stroke-width="0.9" fill="none" vector-effect="non-scaling-stroke"/>
<path d="M290,0 C320,20 400,30 440,20 L460,0" stroke-width="0.9" fill="none" vector-effect="non-scaling-stroke"/>
<path d="M740,40 L775,90" stroke-width="0.9" fill="none" vector-effect="non-scaling-stroke"/>
<path d="M0,410 L15,440" stroke-width="0.9" fill="none" vector-effect="non-scaling-stroke"/>
</g>
<g transform="translate(246.0,156.0) scale(0.11355)">
<path d="M0,90 C80,200 180,300 290,330 L410,270" stroke-width="0.9" fill="none" vector-effect="non-scaling-stroke"/>
<path d="M290,330 L265,375" stroke-width="0.9" fill="none" vector-effect="non-scaling-stroke"/>
<path d="M310,0 C350,60 420,120 500,155" stroke-width="0.9" fill="none" vector-effect="non-scaling-stroke"/>
<path d="M435,310 C450,280 470,255 500,235" stroke-width="0.9" fill="none" vector-effect="non-scaling-stroke"/>
</g>
</g></g>
<use href="#d1" transform="translate(0,548.7)"/>
</g>
</svg><!--/SVG-->
<div class="t" style="left:72.5px;top:198px;font-size:10.3px;">P</div>
<div class="t" style="left:297px;top:196.5px;font-size:7.6px;letter-spacing:0.28px;">D12734</div>
<div class="t" style="left:72.5px;top:381.1px;font-size:10.3px;">P</div>
<div class="t" style="left:297px;top:379.6px;font-size:7.6px;letter-spacing:0.28px;">D12736</div>
<div class="t" style="left:72.5px;top:746.7px;font-size:10.3px;">P</div>
<div class="t" style="left:297px;top:745.2px;font-size:7.6px;letter-spacing:0.28px;">D12734</div>

<div class="t b" style="left:342px;top:43px;font-size:23px;">VEHICLE SPEED SENSOR</div>
<div class="t b" style="left:342px;top:70.5px;font-size:20.5px;">ON-VEHICLE&nbsp; REPAIR</div>
<div class="t" style="left:692px;top:67px;font-size:5px;">AT07Y-02</div>

<div class="l b" style="top:94.30px;left:341.5px;">1.</div>
<div class="l b" style="top:94.30px;left:377.5px;font-size:14px;">DISCONNECT NO. 1 VEHICLE SPEED SENSOR CON-</div>
<div class="l b" style="top:112.63px;left:377.5px;">NECTOR</div>
<div class="l b" style="top:225.50px;left:341.5px;">2.</div>
<div class="l b" style="top:225.50px;left:377.5px;">REMOVE NO. 1 VEHICLE SPEED SENSOR</div>
<div class="l" style="top:243.83px;left:341.5px;">Remove the bolt and the No. 1 vehicle speed sensor.</div>
<div class="l b" style="top:262.16px;left:341.5px;">3.</div>
<div class="l b" style="top:262.16px;left:377.5px;">DISASSEMBLE NO. 1 VEHICLE SPEED SENSOR</div>
<div class="l" style="top:280.49px;left:342px;">(a)</div>
<div class="l j" style="top:280.49px;left:377.5px;word-spacing:1.32px;">Remove the O-ring from the speedometer driven gear</div>
<div class="l" style="top:298.82px;left:377.5px;">assembly.</div>
<div class="l" style="top:317.15px;left:342px;">(b)</div>
<div class="l j" style="top:317.15px;left:377.5px;word-spacing:0.08px;">Remove the clip and the speedometer driven gear from</div>
<div class="l" style="top:335.48px;left:377.5px;">the speedometer driven gear sleeve.</div>
<div class="l b" style="top:353.81px;left:341.5px;">4.</div>
<div class="l b" style="top:353.81px;left:377.5px;">ASSEMBLE NO. 1 VEHICLE SPEED SENSOR</div>
<div class="l" style="top:372.14px;left:342px;">(a)</div>
<div class="l j" style="top:372.14px;left:377.5px;word-spacing:1.04px;">Install the speedometer driven gear and the clip to the</div>
<div class="l" style="top:390.47px;left:377.5px;">speedometer driven gear sleeve.</div>
<div class="l" style="top:408.80px;left:342px;">(b)</div>
<div class="l" style="top:408.80px;left:377.5px;">Coat a new O-ring with ATF.</div>
<div class="l" style="top:427.13px;left:342px;">(c)</div>
<div class="l j" style="top:427.13px;left:377.5px;word-spacing:-0.62px;letter-spacing:-0.12px;">Install the O-ring to the speedometer driven gear assem-</div>
<div class="l" style="top:445.46px;left:377.5px;">bly.</div>
<div class="l b" style="top:463.79px;left:341.5px;">5.</div>
<div class="l b" style="top:463.79px;left:377.5px;">INSTALL NO. 1 VEHICLE SPEED SENSOR</div>
<div class="l" style="top:482.12px;left:341.5px;">Install the No. 1 vehicle speed sensor with the bolt.</div>
<div class="l b" style="top:500.45px;left:377.5px;">Torque: 16 N&middot;m (160 kgf&middot;cm, 12 ft&middot;lbf)</div>
<div class="l b" style="top:591.60px;left:341.5px;">6.</div>
<div class="l j b" style="top:591.60px;left:377.5px;word-spacing:3.13px;">CONNECT NO. 1 VEHICLE SPEED SENSOR CON-</div>
<div class="l b" style="top:609.93px;left:377.5px;">NECTOR</div>

</body></html>
